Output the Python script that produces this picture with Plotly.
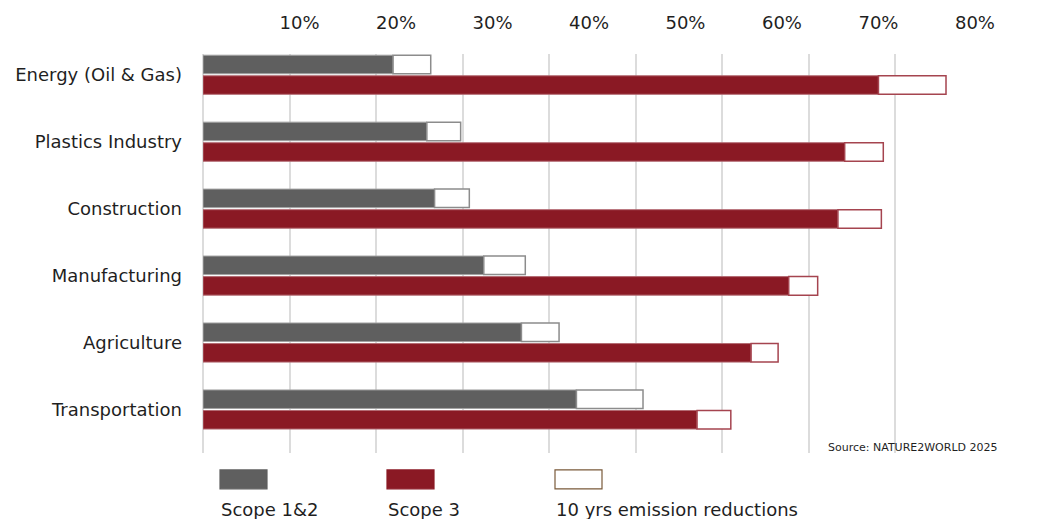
import plotly.graph_objects as go

# ---------------- data ----------------
categories = ["Energy (Oil & Gas)", "Plastics Industry", "Construction",
              "Manufacturing", "Agriculture", "Transportation"]
scope12 = [19.7, 23.2, 24.0, 29.1, 33.0, 38.7]
scope12_total = [23.6, 26.7, 27.6, 33.4, 36.9, 45.6]
scope3 = [70.0, 66.5, 65.8, 60.7, 56.8, 51.2]
scope3_total = [77.0, 70.5, 70.3, 63.7, 59.6, 54.7]
tick_values = [10, 20, 30, 40, 50, 60, 70, 80]
tick_labels = ["10%", "20%", "30%", "40%", "50%", "60%", "70%", "80%"]
legend_labels = ["Scope 1&2", "Scope 3", "10 yrs emission reductions"]
source_text = "Source: NATURE2WORLD 2025"

reduction12 = [t - s for s, t in zip(scope12, scope12_total)]
reduction3 = [t - s for s, t in zip(scope3, scope3_total)]

# ---------------- style ----------------
W, H = 1060, 519
ML, MR, MT, MB = 203, 78, 52, 66
FONT = "DejaVu Sans"
TXT = "#1f1f1f"
GRAY = "#5f5f5f"
RED = "#8a1924"
GRID = "#dcdcdc"

fig = go.Figure()

fig.add_trace(go.Bar(
    y=categories, x=scope12, orientation="h", offsetgroup="a",
    marker=dict(color=GRAY, line=dict(color="#a3a3a3", width=1)),
    name=legend_labels[0], showlegend=False))
fig.add_trace(go.Bar(
    y=categories, x=reduction12, base=scope12, orientation="h", offsetgroup="a",
    marker=dict(color="white", line=dict(color="#8c8c8c", width=1.5)),
    name=legend_labels[2], showlegend=False))
fig.add_trace(go.Bar(
    y=categories, x=scope3, orientation="h", offsetgroup="b",
    marker=dict(color=RED, line=dict(color="#b36a72", width=1)),
    name=legend_labels[1], showlegend=False))
fig.add_trace(go.Bar(
    y=categories, x=reduction3, base=scope3, orientation="h", offsetgroup="b",
    marker=dict(color="white", line=dict(color="#a5444f", width=1.5)),
    name=legend_labels[2], showlegend=False))

# invisible trace so the gridline axis exists
fig.add_trace(go.Scatter(x=[None], y=[None], xaxis="x2", yaxis="y",
                         showlegend=False, hoverinfo="skip"))

plot_w = W - ML - MR
plot_h = H - MT - MB


def px(x):
    return (x - ML) / plot_w


def py(y):
    return (H - MB - y) / plot_h


fig.update_layout(
    width=W, height=H,
    margin=dict(l=ML, r=MR, t=MT, b=MB, pad=0),
    paper_bgcolor="white", plot_bgcolor="white",
    font=dict(family=FONT, color=TXT, size=18),
    barmode="group", bargap=0.385, bargroupgap=0.1,
    xaxis=dict(range=[0, 80.73], side="top", tickvals=tick_values,
               ticktext=tick_labels, showgrid=False, zeroline=False,
               showline=False, ticks="", ticklabelstandoff=20,
               tickfont=dict(size=18, color=TXT, family=FONT)),
    xaxis2=dict(range=[0, 9], overlaying="x", side="bottom", dtick=1,
                showgrid=True, gridcolor=GRID, gridwidth=1.5,
                zeroline=True, zerolinecolor=GRID, zerolinewidth=1.5,
                showticklabels=False, ticks="", showline=False),
    yaxis=dict(categoryorder="array", categoryarray=categories,
               range=[5.65, -0.31], showgrid=False, zeroline=False,
               showline=False, ticks="", ticklabelstandoff=20,
               tickfont=dict(size=18, color=TXT, family=FONT)),
)

# legend drawn as swatches with labels underneath
swatch_x = [220, 387, 555]
swatch_fill = [GRAY, RED, "white"]
swatch_line = [GRAY, RED, "#7a5a3a"]
for i in range(3):
    fig.add_shape(type="rect", xref="paper", yref="paper",
                  x0=px(swatch_x[i]), x1=px(swatch_x[i] + 47),
                  y0=py(489), y1=py(470),
                  fillcolor=swatch_fill[i],
                  line=dict(color=swatch_line[i], width=1.2))
    fig.add_annotation(xref="paper", yref="paper",
                       x=px(swatch_x[i] - 1), y=py(510),
                       xanchor="left", yanchor="middle", showarrow=False,
                       text=legend_labels[i],
                       font=dict(size=18, color=TXT, family=FONT))

fig.add_annotation(xref="paper", yref="paper", x=px(1000), y=py(447),
                   xanchor="right", yanchor="middle", showarrow=False,
                   text=source_text, font=dict(size=11, color=TXT, family=FONT))

fig.write_html("out.html")
